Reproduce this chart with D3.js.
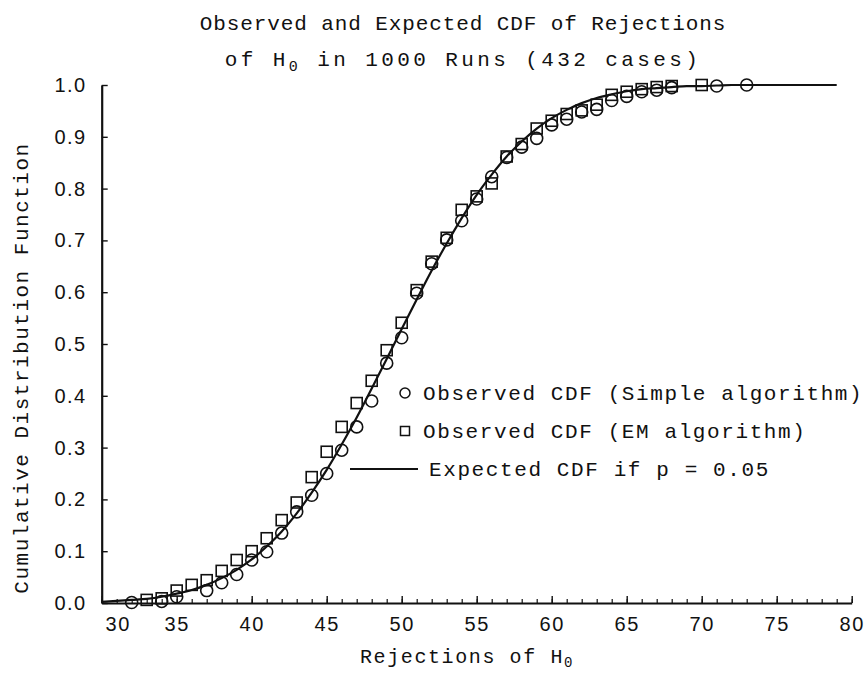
<!DOCTYPE html>
<html>
<head>
<meta charset="utf-8">
<script src="https://cdn.jsdelivr.net/npm/d3@7"></script>
<style>
  body { margin: 0; background: #fff; }
  svg { display: block; }
  .mono { font-family: "Liberation Mono", "DejaVu Sans Mono", monospace; fill: #111; }
  .axis text { font-family: "Liberation Sans", Arial, sans-serif; font-size: 20px; fill: #111; letter-spacing: 1.5px; }
  .axis path, .axis line { stroke: #111; }
</style>
</head>
<body>
<svg id="chart" width="866" height="674"></svg>
<script>
const simpleX = [32, 34, 35, 37, 38, 39, 40, 41, 42, 43, 44, 45, 46, 47, 48, 49, 50, 51, 52, 53,
                 54, 55, 56, 57, 58, 59, 60, 61, 62, 63, 64, 65, 66, 67, 68, 71, 73];
const simpleCdf = [0.001, 0.003, 0.012, 0.024, 0.039, 0.055, 0.083, 0.099, 0.135, 0.176, 0.208, 0.250,
                   0.295, 0.340, 0.390, 0.463, 0.512, 0.598, 0.655, 0.701, 0.738, 0.780, 0.823, 0.860,
                   0.880, 0.897, 0.923, 0.934, 0.948, 0.953, 0.970, 0.978, 0.987, 0.990, 0.995, 0.998, 1.0];

const emX = [33, 34, 35, 36, 37, 38, 39, 40, 41, 42, 43, 44, 45, 46, 47, 48, 49, 50, 51, 52, 53,
             54, 55, 56, 57, 58, 59, 60, 61, 62, 63, 64, 65, 66, 67, 68, 70];
const emCdf = [0.006, 0.009, 0.024, 0.035, 0.044, 0.062, 0.083, 0.100, 0.125, 0.160, 0.194, 0.243,
               0.292, 0.340, 0.386, 0.429, 0.488, 0.541, 0.604, 0.659, 0.705, 0.759, 0.785, 0.810,
               0.862, 0.886, 0.916, 0.931, 0.944, 0.951, 0.962, 0.981, 0.987, 0.992, 0.996, 0.998, 1.0];

// Expected CDF curve (p = 0.05), read at each integer from 30 to 79.
const expectedX = d3.range(30, 80);
const expectedCdf = [0.002, 0.004, 0.006, 0.008, 0.012, 0.018, 0.025, 0.035, 0.048, 0.064,
                     0.084, 0.109, 0.138, 0.173, 0.213, 0.257, 0.306, 0.358, 0.414, 0.471,
                     0.529, 0.586, 0.642, 0.694, 0.743, 0.788, 0.827, 0.862, 0.891, 0.916,
                     0.936, 0.952, 0.965, 0.975, 0.982, 0.988, 0.992, 0.994, 0.996, 0.998,
                     0.998, 0.999, 1.0, 1.0, 1.0, 1.0, 1.0, 1.0, 1.0, 1.0];

const xTicks = d3.range(30, 81, 5);
const yTicks = d3.range(0, 1.01, 0.1);
const legendLabels = ["Observed CDF (Simple algorithm)", "Observed CDF (EM algorithm)", "Expected CDF if p = 0.05"];

const svg = d3.select("#chart"),
    x = d3.scaleLinear().domain([30, 80]).range([101.7, 851.7]),
    y = d3.scaleLinear().domain([0, 1]).range([603, 85]);

// Title, two lines, second one with a subscript.
const title = svg.append("text")
    .attr("class", "mono")
    .attr("text-anchor", "middle")
    .style("font-size", "21px")
    .style("letter-spacing", "0.9px");
title.append("tspan").attr("x", 463).attr("y", 30).text("Observed and Expected CDF of Rejections");
const t2 = title.append("tspan").attr("x", 463).attr("y", 66).style("letter-spacing", "3.4px");
t2.append("tspan").text("of H");
t2.append("tspan").attr("dy", 5).style("font-size", "15px").text("0");
t2.append("tspan").attr("dy", -5).text(" in 1000 Runs (432 cases)");

// Minor x ticks every unit, pointing up into the plot.
svg.append("g")
    .attr("class", "axis")
    .attr("transform", "translate(0," + y(0) + ")")
    .call(d3.axisBottom(x).tickValues(d3.range(30, 81)).tickSize(-4).tickFormat(""))
    .call(g => g.select(".domain").remove())
    .selectAll("line").attr("stroke-width", 1.2);

// Major x ticks with labels.
const xAxis = svg.append("g")
    .attr("class", "axis")
    .attr("transform", "translate(0," + y(0) + ")")
    .call(d3.axisBottom(x).tickValues(xTicks).tickSize(-7).tickSizeOuter(0).tickPadding(14));
xAxis.select(".domain").attr("stroke-width", 2.2);
xAxis.selectAll("line").attr("stroke-width", 1.4);
// the "30" label is nudged right, clear of the y axis
xAxis.selectAll(".tick text").filter(d => d == 30).attr("dx", 16);

const yAxis = svg.append("g")
    .attr("class", "axis")
    .attr("transform", "translate(" + x(30) + ",0)")
    .call(d3.axisLeft(y).tickValues(yTicks).tickSize(-6).tickSizeOuter(0).tickPadding(15).tickFormat(d3.format(".1f")));
yAxis.select(".domain").attr("stroke-width", 2.2);
yAxis.selectAll("line").attr("stroke-width", 1.4);

// Axis titles.
svg.append("text")
    .attr("class", "mono")
    .attr("transform", "translate(28,368) rotate(-90)")
    .attr("text-anchor", "middle")
    .style("font-size", "21px")
    .style("letter-spacing", "1.5px")
    .text("Cumulative Distribution Function");

const xt = svg.append("text")
    .attr("class", "mono")
    .attr("x", 467)
    .attr("y", 663)
    .attr("text-anchor", "middle")
    .style("font-size", "20px")
    .style("letter-spacing", "1.6px");
xt.append("tspan").text("Rejections of H");
xt.append("tspan").attr("dy", 4).style("font-size", "14px").text("0");

// Expected CDF curve.
const line = d3.line()
    .x((d, i) => x(expectedX[i]))
    .y(d => y(d))
    .curve(d3.curveMonotoneX);

svg.append("path")
    .datum(expectedCdf)
    .attr("d", line)
    .attr("fill", "none")
    .attr("stroke", "#111")
    .attr("stroke-width", 2.2);

// Observed points: circles for the simple algorithm, squares for EM.
svg.append("g")
    .selectAll("circle")
    .data(simpleCdf)
    .enter()
    .append("circle")
    .attr("cx", (d, i) => x(simpleX[i]))
    .attr("cy", d => y(d))
    .attr("r", 6)
    .attr("fill", "none")
    .attr("stroke", "#111")
    .attr("stroke-width", 1.6);

const sq = 11;
svg.append("g")
    .selectAll("rect")
    .data(emCdf)
    .enter()
    .append("rect")
    .attr("x", (d, i) => x(emX[i]) - sq / 2)
    .attr("y", d => y(d) - sq / 2)
    .attr("width", sq)
    .attr("height", sq)
    .attr("fill", "none")
    .attr("stroke", "#111")
    .attr("stroke-width", 1.6);

// Legend.
const legend = svg.append("g");
const rowY = [393, 431, 469];

legend.append("circle")
    .attr("cx", 405).attr("cy", rowY[0]).attr("r", 5)
    .attr("fill", "none").attr("stroke", "#111").attr("stroke-width", 1.5);
legend.append("rect")
    .attr("x", 400.5).attr("y", rowY[1] - 4.5).attr("width", 9).attr("height", 9)
    .attr("fill", "none").attr("stroke", "#111").attr("stroke-width", 1.5);
legend.append("line")
    .attr("x1", 350).attr("x2", 418).attr("y1", rowY[2]).attr("y2", rowY[2])
    .attr("stroke", "#111").attr("stroke-width", 2.2);

legend.selectAll("text")
    .data(legendLabels)
    .enter()
    .append("text")
    .attr("class", "mono")
    .attr("x", (d, i) => i < 2 ? 423 : 429)
    .attr("y", (d, i) => rowY[i] + 7)
    .style("font-size", "21px")
    .style("letter-spacing", "1.6px")
    .text(d => d);
</script>
</body>
</html>
